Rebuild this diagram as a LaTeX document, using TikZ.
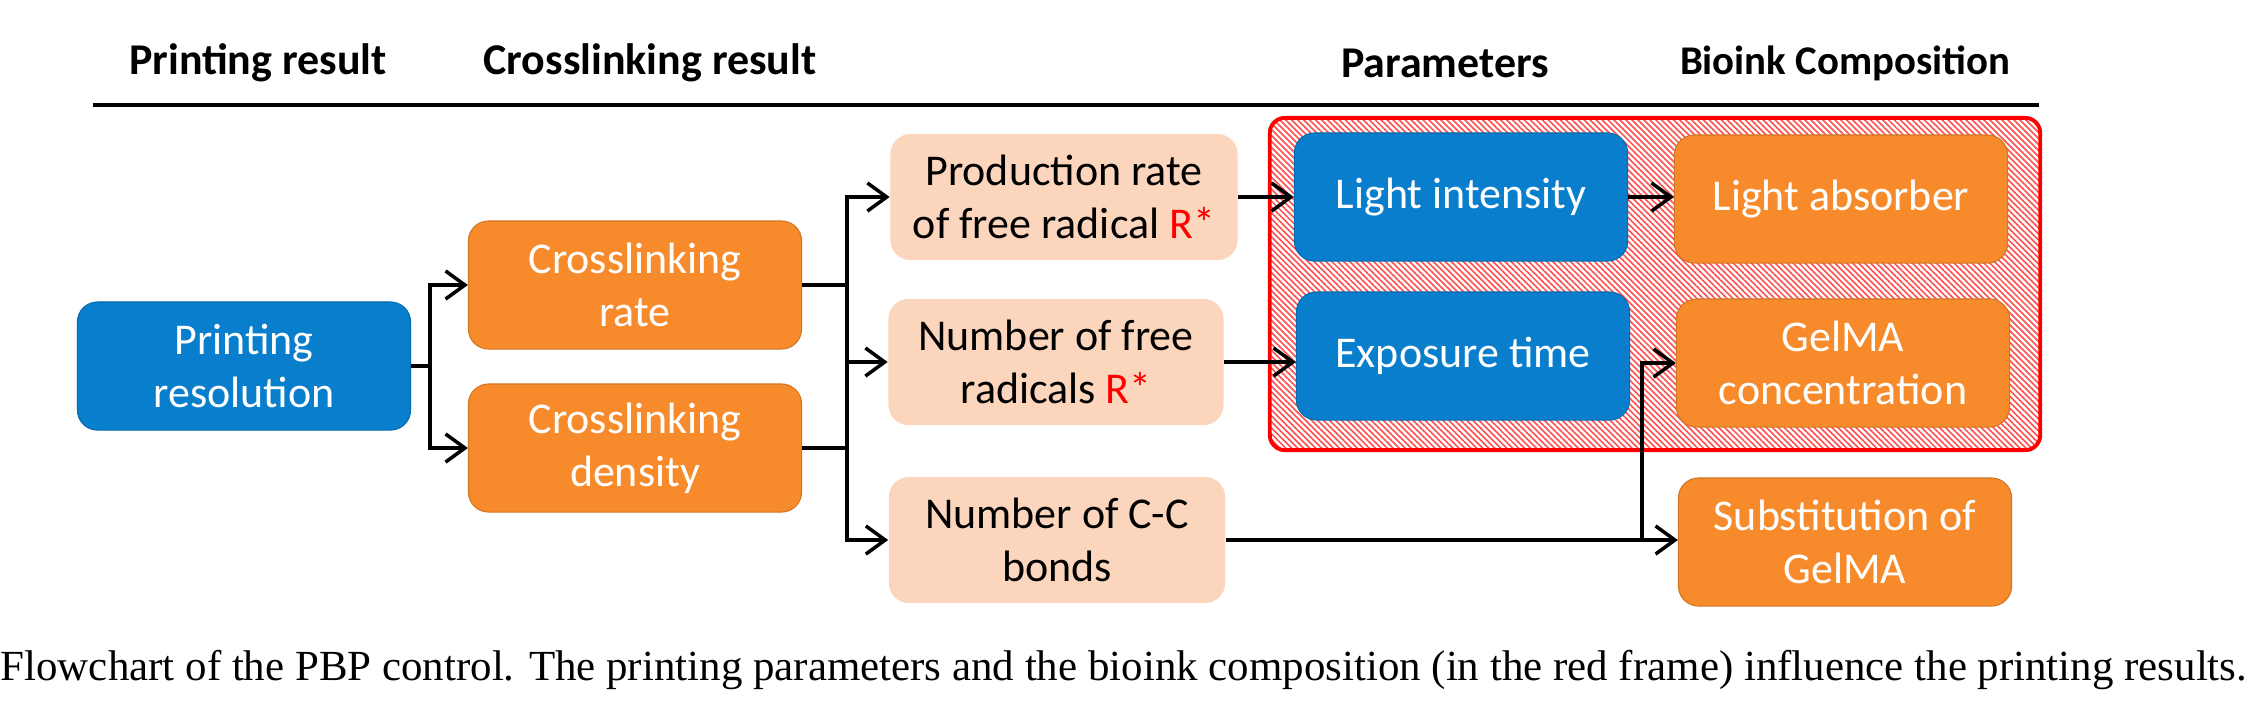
\documentclass[tikz,border=0pt]{standalone}
\usepackage{fontspec}
\setmainfont{Carlito}
\newfontfamily\capfont{Liberation Serif}
\usetikzlibrary{arrows.meta,patterns.meta}
\definecolor{cblue}{RGB}{8,126,204}
\definecolor{corange}{RGB}{247,139,44}
\definecolor{cpeach}{RGB}{251,213,188}
\begin{document}
\begin{tikzpicture}[x=0.01cm,y=-0.01cm,
 box/.style={rounded corners=0.2cm, minimum width=3.33cm, minimum height=1.28cm, align=center, font=\fontsize{12.5}{15}\selectfont, inner sep=0pt},
 bluebox/.style={box, fill=cblue, draw=cblue!85!black, line width=0.3pt, text=white},
 orbox/.style={box, fill=corange, draw=corange!85!black, line width=0.3pt, text=white},
 pbox/.style={box, fill=cpeach, text=black},
 hdr/.style={font=\fontsize{12.5}{15}\selectfont\bfseries},
 conn/.style={line width=1pt, black},
 arr/.style={conn, -{Straight Barb[length=5.5pt,width=8pt,line width=1pt]}},
 hatchframe/.style={draw=red, line width=1.1pt, rounded corners=0.15cm, pattern={Lines[angle=-45,distance=1.2pt,line width=0.45pt]}, pattern color=red!70, minimum width=7.7cm, minimum height=3.32cm, inner sep=0pt}
]
\useasboundingbox (0,0) rectangle (2252,720);

% headers
\node[hdr] (h1) at (258,63) {Printing result};
\node[hdr] (h2) at (650,63) {Crosslinking result};
\node[hdr] (h3) at (1445,63) {Parameters};
\node[hdr, font=\fontsize{11.6}{14}\selectfont\bfseries] (h4) at (1845,63) {Bioink Composition};
\coordinate (rl) at (93,105);
\coordinate (rr) at (2039,105);
\draw[line width=1.2pt] (rl) -- (rr);

% red frame
\node[hatchframe] (frame) at (1655,284) {};

% boxes
\node[bluebox] (pres) at (244,366) {Printing\\resolution};
\node[orbox] (rate) at (635,285) {Crosslinking\\rate};
\node[orbox] (dens) at (635,448) {Crosslinking\\density};
\node[pbox, minimum width=3.47cm, minimum height=1.26cm] (prod) at (1064,197) {Production rate\\of free radical \textcolor{red}{R*}};
\node[pbox, minimum width=3.35cm, minimum height=1.26cm] (numf) at (1056,362) {Number of free\\radicals \textcolor{red}{R*}};
\node[pbox, minimum width=3.36cm, minimum height=1.26cm] (cc) at (1057,540) {Number of C-C\\bonds};
\node[bluebox] (light) at (1461,197) {Light intensity};
\node[bluebox] (expo) at (1463,356) {Exposure time};
\node[orbox] (absorb) at (1841,199) {Light absorber};
\node[orbox] (gelma) at (1843,363) {GelMA\\concentration};
\node[orbox] (subst) at (1845,542) {Substitution of\\GelMA};

% connectors
\coordinate (j1) at (430,366);
\draw[conn] (pres.east) -- (j1);
\draw[arr] (j1) |- (rate.west);
\draw[arr] (j1) |- (dens.west);

\coordinate (j2) at (847,285);
\coordinate (j3) at (847,448);
\draw[conn] (rate.east) -- (j2);
\draw[conn] (dens.east) -- (j3);
\draw[conn] (j2) -- (j3);
\draw[arr] (j2) |- (prod.west);
\draw[arr] (j2) |- (numf.west);
\draw[arr] (j3) |- (cc.west);

\draw[arr] (prod.east) -- (prod.east -| light.west);
\draw[arr] (numf.east) -- (numf.east -| expo.west);
\draw[arr] (light.east) -- (light.east -| absorb.west);

\coordinate (j4) at (1642,540);
\draw[conn] (cc.east) -- (j4);
\draw[arr] (j4) -- (j4 -| subst.west);
\draw[arr] (j4) |- (gelma.west);

% caption
\node[anchor=west, inner sep=0pt] (cap) at (0,670) {\resizebox{22.45cm}{!}{\capfont Flowchart of the PBP control. The printing parameters and the bioink composition (in the red frame) influence the printing results.}};
\end{tikzpicture}
\end{document}
